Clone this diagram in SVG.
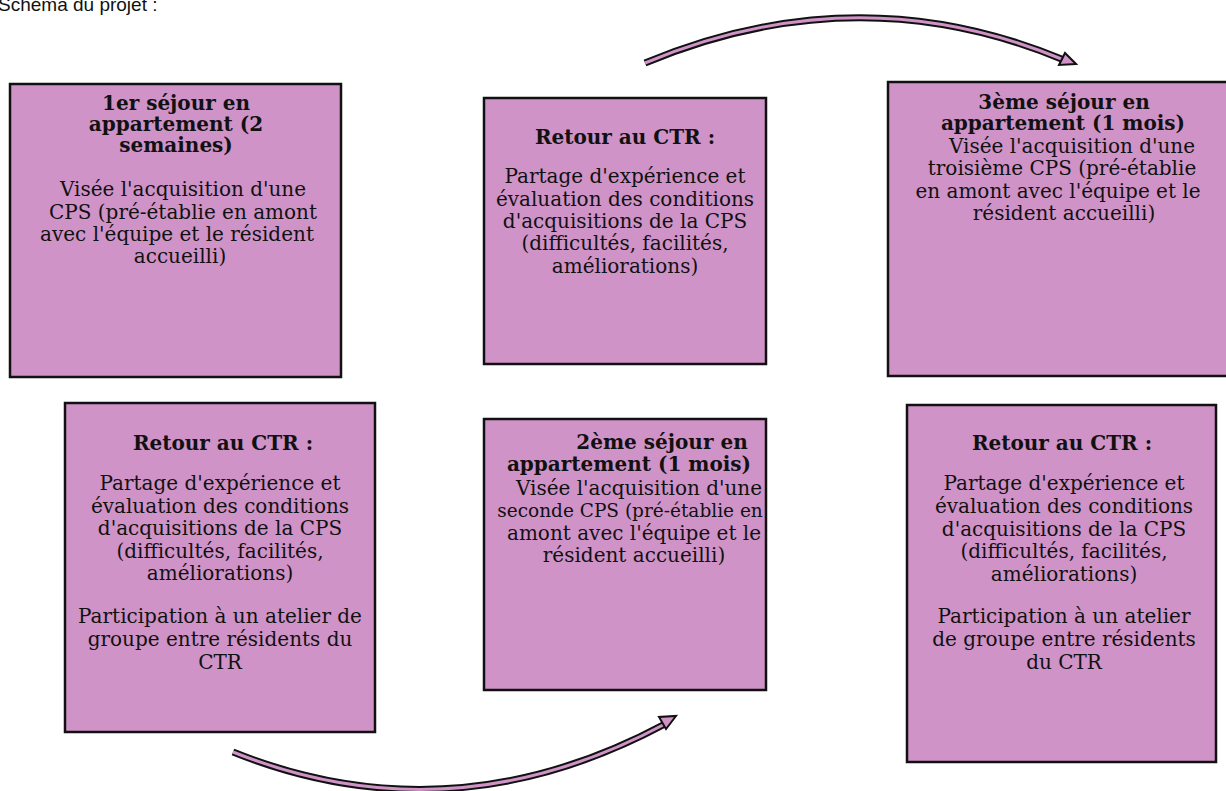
<svg xmlns="http://www.w3.org/2000/svg" width="1226" height="791" viewBox="0 0 1226 791">
<style>
.box{fill:#CF93C7;stroke:#111;stroke-width:2.5}
.t{font-family:"DejaVu Serif","Liberation Serif",serif;font-size:20px;fill:#111;text-anchor:middle}
.b{font-weight:bold;font-size:20px}
.cap{font-family:"Liberation Sans",Arial,sans-serif;font-size:19px;fill:#111}
.aout{fill:none;stroke:#111;stroke-width:7;stroke-linecap:butt}
.ain{fill:none;stroke:#CF93C7;stroke-width:3;stroke-linecap:butt}
.head{fill:#CF93C7;stroke:#111;stroke-width:2;stroke-linejoin:miter}
</style>
<rect width="1226" height="791" fill="#fff"/>
<text class="cap" x="-2" y="11">Schéma du projet :</text>

<g id="n1">
<rect class="box" x="10" y="84" width="331" height="293"/>
<text class="t b" x="176" y="110">1er séjour en</text>
<text class="t b" x="176" y="131">appartement (2</text>
<text class="t b" x="176" y="152">semaines)</text>
<text class="t" x="183" y="196">Visée l'acquisition d'une</text>
<text class="t" x="183" y="219">CPS (pré-établie en amont</text>
<text class="t" x="177" y="241">avec l'équipe et le résident</text>
<text class="t" x="180" y="263">accueilli)</text>
</g>

<g id="n2">
<rect class="box" x="484" y="98" width="282" height="266"/>
<text class="t b" x="625" y="144">Retour au CTR :</text>
<text class="t" x="625" y="183">Partage d'expérience et</text>
<text class="t" x="625" y="206">évaluation des conditions</text>
<text class="t" x="625" y="228">d'acquisitions de la CPS</text>
<text class="t" x="625" y="250">(difficultés, facilités,</text>
<text class="t" x="625" y="273">améliorations)</text>
</g>

<g id="n3">
<rect class="box" x="888" y="82" width="350" height="294"/>
<text class="t b" x="1064" y="109">3ème séjour en</text>
<text class="t b" x="1063" y="130">appartement (1 mois)</text>
<text class="t" x="1072" y="153">Visée l'acquisition d'une</text>
<text class="t" x="1062" y="175">troisième CPS (pré-établie</text>
<text class="t" x="1058" y="198">en amont avec l'équipe et le</text>
<text class="t" x="1064" y="220">résident accueilli)</text>
</g>

<g id="n4">
<rect class="box" x="65" y="403" width="310" height="329"/>
<text class="t b" x="223" y="450">Retour au CTR :</text>
<text class="t" x="220" y="490">Partage d'expérience et</text>
<text class="t" x="220" y="513">évaluation des conditions</text>
<text class="t" x="220" y="535">d'acquisitions de la CPS</text>
<text class="t" x="220" y="558">(difficultés, facilités,</text>
<text class="t" x="220" y="580">améliorations)</text>
<text class="t" x="220" y="623">Participation à un atelier de</text>
<text class="t" x="220" y="646">groupe entre résidents du</text>
<text class="t" x="220" y="669">CTR</text>
</g>

<g id="n5">
<rect class="box" x="484" y="419" width="282" height="271"/>
<text class="t b" x="662" y="449">2ème séjour en</text>
<text class="t b" x="629" y="471">appartement (1 mois)</text>
<text class="t" x="639" y="495">Visée l'acquisition d'une</text>
<text class="t" x="630" y="517" style="font-size:18.5px">seconde CPS (pré-établie en</text>
<text class="t" x="634" y="540">amont avec l'équipe et le</text>
<text class="t" x="634" y="562">résident accueilli)</text>
</g>

<g id="n6">
<rect class="box" x="907" y="405" width="309" height="357"/>
<text class="t b" x="1062" y="450">Retour au CTR :</text>
<text class="t" x="1064" y="490">Partage d'expérience et</text>
<text class="t" x="1064" y="513">évaluation des conditions</text>
<text class="t" x="1064" y="536">d'acquisitions de la CPS</text>
<text class="t" x="1064" y="558">(difficultés, facilités,</text>
<text class="t" x="1064" y="581">améliorations)</text>
<text class="t" x="1064" y="623">Participation à un atelier</text>
<text class="t" x="1064" y="646">de groupe entre résidents</text>
<text class="t" x="1064" y="669">du CTR</text>
</g>

<g id="connectors">
<path class="aout" d="M645,63 Q858,-26 1064,60"/>
<path class="ain" d="M645,63 Q858,-26 1064,60"/>
<polygon class="head" points="1076,64 1059,65 1065,53"/>
<path class="aout" d="M233,752 Q450,839 665,724"/>
<path class="ain" d="M233,752 Q450,839 665,724"/>
<polygon class="head" points="676,716 666,729 659,717"/>
</g>
</svg>
